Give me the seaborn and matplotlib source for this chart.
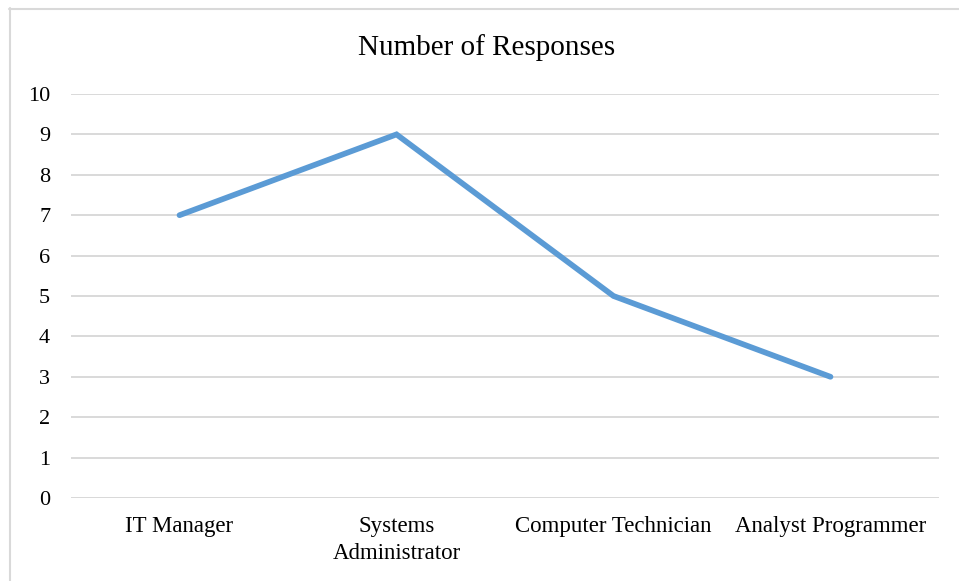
import matplotlib
matplotlib.use("Agg")
import matplotlib.pyplot as plt
from matplotlib.lines import Line2D
import seaborn as sns
import pandas as pd

roles = ["IT Manager", "Systems\nAdministrator", "Computer Technician", "Analyst Programmer"]
responses = [7, 9, 5, 3]
y_ticks = list(range(0, 11))

df = pd.DataFrame({"role": roles, "responses": responses})

sns.set_theme(style="white")
plt.rcParams["font.family"] = ["Liberation Serif", "DejaVu Serif"]

fig = plt.figure(figsize=(9.59, 5.81), dpi=100)
ax = fig.add_axes([71 / 959, 1 - 498 / 581, 868 / 959, 404 / 581])

sns.lineplot(data=df, x="role", y="responses", ax=ax, color="#5B9BD5",
             linewidth=4.1, sort=False, solid_capstyle="round",
             solid_joinstyle="miter")

ax.set_xlim(-0.5, 3.5)
ax.set_ylim(0, 10)
ax.set_yticks(y_ticks)
ax.set_yticklabels([str(v) for v in y_ticks])
ax.set_xticks(range(len(roles)))
ax.set_xticklabels(roles, linespacing=1.4)
ax.yaxis.grid(True, color="#D9D9D9", linewidth=1.4)
ax.set_axisbelow(True)
for side in ["left", "right", "top", "bottom"]:
    ax.spines[side].set_visible(False)
ax.tick_params(axis="y", length=0, pad=15, labelsize=16, labelcolor="#000000")
ax.tick_params(axis="x", length=0, pad=13, labelsize=16.5, labelcolor="#000000")
ax.set_xlabel("")
ax.set_ylabel("")

# the bottom gridline at zero sits on top of the axes edge
ax.axhline(0, color="#D9D9D9", linewidth=1.4, zorder=0.5)

fig.text(487 / 959, 1 - 48 / 581, "Number of Responses", ha="center", va="center",
         fontsize=21, color="#000000")

# chart frame (left and top edges)
fig.add_artist(Line2D([9.5 / 959, 9.5 / 959], [0, 1 - 8 / 581], transform=fig.transFigure,
                      color="#D9D9D9", linewidth=1.5))
fig.add_artist(Line2D([9 / 959, 1], [1 - 8.5 / 581, 1 - 8.5 / 581], transform=fig.transFigure,
                      color="#D9D9D9", linewidth=1.5))

fig.savefig("out.png", dpi=100)
